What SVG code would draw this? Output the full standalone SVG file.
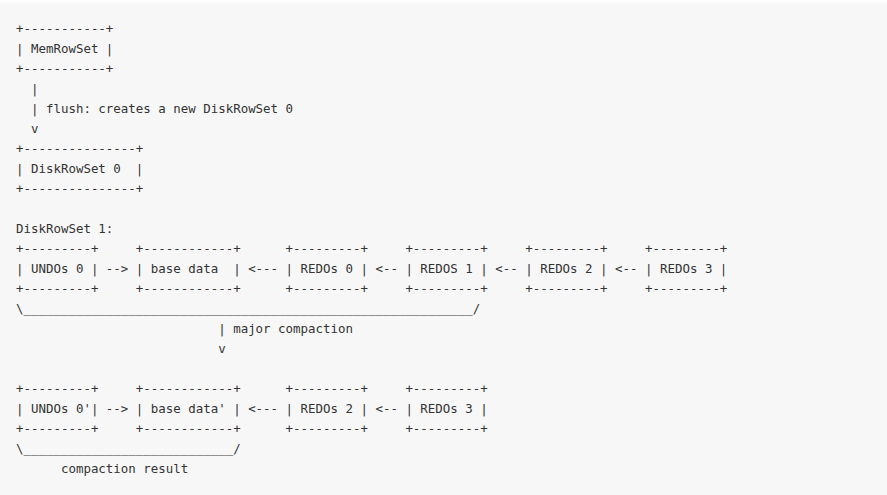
<svg xmlns="http://www.w3.org/2000/svg" width="887" height="495" viewBox="0 0 887 495">
<style>
.t{font-family:"DejaVu Sans Mono","Liberation Mono",monospace;font-size:12.45px;fill:#333;white-space:pre}
</style>
<defs>
<linearGradient id="top" x1="0" y1="0" x2="0" y2="1">
<stop offset="0" stop-color="#ffffff"/>
<stop offset="1" stop-color="#f7f7f7"/>
</linearGradient>
</defs>
<rect x="0" y="0" width="887" height="495" fill="#f7f7f7"/>
<rect x="0" y="0" width="887" height="5" fill="url(#top)"/>
<g id="memrowset" xml:space="preserve">
<text class="t" x="16" y="33">+-----------+</text>
<text class="t" x="16" y="53">| MemRowSet |</text>
<text class="t" x="16" y="73">+-----------+</text>
</g>
<g id="flush" xml:space="preserve">
<text class="t" x="16" y="93">  |</text>
<text class="t" x="16" y="113">  | flush: creates a new DiskRowSet 0</text>
<text class="t" x="16" y="133">  v</text>
</g>
<g id="diskrowset0" xml:space="preserve">
<text class="t" x="16" y="153">+---------------+</text>
<text class="t" x="16" y="173">| DiskRowSet 0  |</text>
<text class="t" x="16" y="193">+---------------+</text>
</g>
<g id="diskrowset1" xml:space="preserve">
<text class="t" x="16" y="233">DiskRowSet 1:</text>
<text class="t" x="16" y="253">+---------+     +------------+      +---------+     +---------+     +---------+     +---------+</text>
<text class="t" x="16" y="273">| UNDOs 0 | --&gt; | base data  | &lt;--- | REDOs 0 | &lt;-- | REDOS 1 | &lt;-- | REDOs 2 | &lt;-- | REDOs 3 |</text>
<text class="t" x="16" y="293">+---------+     +------------+      +---------+     +---------+     +---------+     +---------+</text>
<text class="t" x="16" y="313">\____________________________________________________________/</text>
</g>
<g id="major-compaction" xml:space="preserve">
<text class="t" x="16" y="333">                           | major compaction</text>
<text class="t" x="16" y="353">                           v</text>
</g>
<g id="result" xml:space="preserve">
<text class="t" x="16" y="393">+---------+     +------------+      +---------+     +---------+</text>
<text class="t" x="16" y="413">| UNDOs 0'| --&gt; | base data' | &lt;--- | REDOs 2 | &lt;-- | REDOs 3 |</text>
<text class="t" x="16" y="433">+---------+     +------------+      +---------+     +---------+</text>
<text class="t" x="16" y="453">\____________________________/</text>
<text class="t" x="16" y="473">      compaction result</text>
</g>
</svg>
